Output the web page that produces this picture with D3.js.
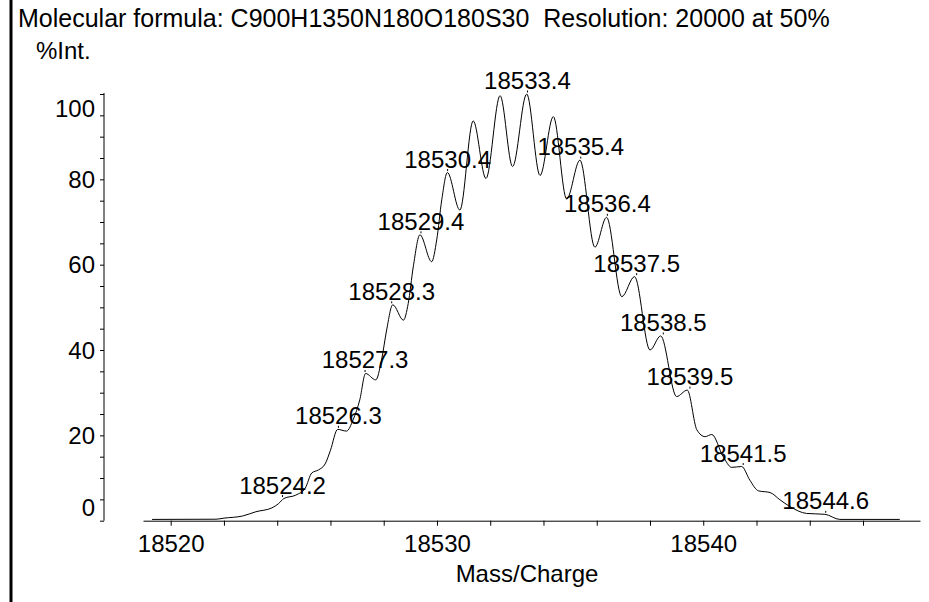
<!DOCTYPE html>
<html><head><meta charset="utf-8">
<script src="https://cdn.jsdelivr.net/npm/d3@7"></script>
<style>
html,body{margin:0;padding:0;background:#fff;}
svg text{font-family:"Liberation Sans",Arial,sans-serif;fill:#000;}
</style></head>
<body>
<svg id="c" width="929" height="602"></svg>
<script>
// ---- data ----
const titleText = "Molecular formula: C900H1350N180O180S30  Resolution: 20000 at 50%";
const yAxisTitle = "%Int.";
const xAxisTitle = "Mass/Charge";

const profileMass = [18519.3,18521.7,18522.0,18522.7,18523.2,18523.8,18524.05,18524.25,18524.7,18525.05,
  18525.3,18525.55,18525.8,18526.0,18526.27,18526.6,18526.86,18527.1,18527.32,18527.7,
  18527.92,18528.11,18528.34,18528.74,18528.92,18529.11,18529.36,18529.8,18529.99,18530.18,
  18530.39,18530.86,18531.36,18531.84,18532.37,18532.84,18533.37,18533.87,18534.37,18534.87,
  18535.37,18535.93,18536.37,18536.94,18537.42,18538.0,18538.4,18539.0,18539.4,18539.76,
  18540.07,18540.32,18540.75,18541.07,18541.44,18541.75,18542.07,18542.51,18542.88,18543.26,
  18543.88,18544.57,18545.13,18547.38];
const profileIntensity = [0.3,0.35,0.6,1.1,2.1,3.0,4.0,5.2,6.0,7.6,
  11.2,11.9,13.3,16.5,21.4,21.0,23.8,28.3,34.5,33.0,
  37.7,44.7,50.6,47.0,50.9,59.5,67.0,60.7,65.8,75.2,
  81.6,72.8,93.7,80.2,99.6,83.0,100.0,80.9,94.7,75.4,
  84.5,64.1,71.1,52.5,57.2,40.0,43.3,29.1,30.6,21.3,
  19.7,20.2,15.0,12.5,12.7,9.5,7.0,6.6,4.9,3.3,
  1.7,1.5,0.3,0.3];

const peakMass = [18524.2,18526.3,18527.3,18528.3,18529.4,18530.4,18533.4,18535.4,18536.4,18537.5,18538.5,18539.5,18541.5,18544.6];
const peakIntensity = [5.2,21.4,34.5,50.6,67.0,81.6,100.0,84.5,71.1,57.2,43.3,30.6,12.7,1.5];

const xTickValues = [18520,18522,18524,18526,18528,18530,18532,18534,18536,18538,18540,18542,18544,18546];
const xTickLabels = [18520,18530,18540];
const yTickValues = [0,5,10,15,20,25,30,35,40,45,50,55,60,65,70,75,80,85,90,95,100];
const yTickLabels = [0,20,40,60,80,100];

// ---- drawing ----
const svg = d3.select("#c");
const FS = 24;

// left border bar
svg.append("rect").attr("x",9.5).attr("y",0).attr("width",3).attr("height",602).attr("fill","#000");

const x = d3.scaleLinear().domain([18518.96,18548.14]).range([143,920]);
const y = d3.scaleLinear().domain([0,100]).range([520.7,94]);
const yAxisX = 104;

svg.append("text").attr("x",18).attr("y",27).attr("font-size",25)
  .style("white-space","pre").attr("xml:space","preserve").text(titleText);
svg.append("text").attr("x",36).attr("y",59).attr("font-size",FS).text(yAxisTitle);

// x axis
const xAxis = d3.axisBottom(x).tickValues(xTickValues).tickSize(5).tickSizeOuter(0)
  .tickFormat(d => xTickLabels.includes(d) ? String(d) : "");
const gx = svg.append("g").attr("transform",`translate(0,${y(0)})`).call(xAxis);
gx.select(".domain").attr("stroke","#000");
gx.selectAll(".tick line").attr("stroke","#000");
gx.selectAll(".tick text").attr("font-size",FS).attr("font-family",null).attr("fill","#000").attr("dy",null).attr("y",31);

svg.append("text").attr("x",527).attr("y",582).attr("text-anchor","middle").attr("font-size",FS).text(xAxisTitle);

// y axis
const yAxis = d3.axisLeft(y).tickValues(yTickValues).tickSize(4).tickSizeOuter(0).tickFormat("");
const gy = svg.append("g").attr("transform",`translate(${yAxisX},0)`).call(yAxis);
gy.select(".domain").attr("stroke","#000").attr("d",`M0,${y(0)}V93`);
gy.selectAll(".tick line").attr("stroke","#000");
// y labels, kept inside the axis extent
const yLo = y(0)-13.5, yHi = y(100)+14;
svg.append("g").selectAll("text").data(yTickLabels).join("text")
  .attr("x",95).attr("y",d => Math.max(yHi, Math.min(yLo, y(d))) + 8.5)
  .attr("text-anchor","end").attr("font-size",FS).text(d => d);

// profile
const pts = profileMass.map((m,i)=>[m,profileIntensity[i]]);
svg.append("path").datum(pts)
  .attr("d", d3.line().x(d=>x(d[0])).y(d=>y(d[1])).curve(d3.curveMonotoneX))
  .attr("fill","none").attr("stroke","#000").attr("stroke-width",1);

// peak markers + labels
const peaks = peakMass.map((m,i)=>({m, v:peakIntensity[i]}));
svg.append("g").selectAll("line").data(peaks).join("line")
  .attr("x1",d=>x(d.m)).attr("x2",d=>x(d.m))
  .attr("y1",d=>y(d.v)-1.5).attr("y2",d=>y(d.v)-3.5)
  .attr("stroke","#000").attr("stroke-width",1);
svg.append("g").selectAll("text").data(peaks).join("text")
  .attr("x",d=>x(d.m)).attr("y",d=>y(d.v)-5)
  .attr("text-anchor","middle").attr("font-size",FS).text(d=>d.m.toFixed(1));
</script>
</body></html>
